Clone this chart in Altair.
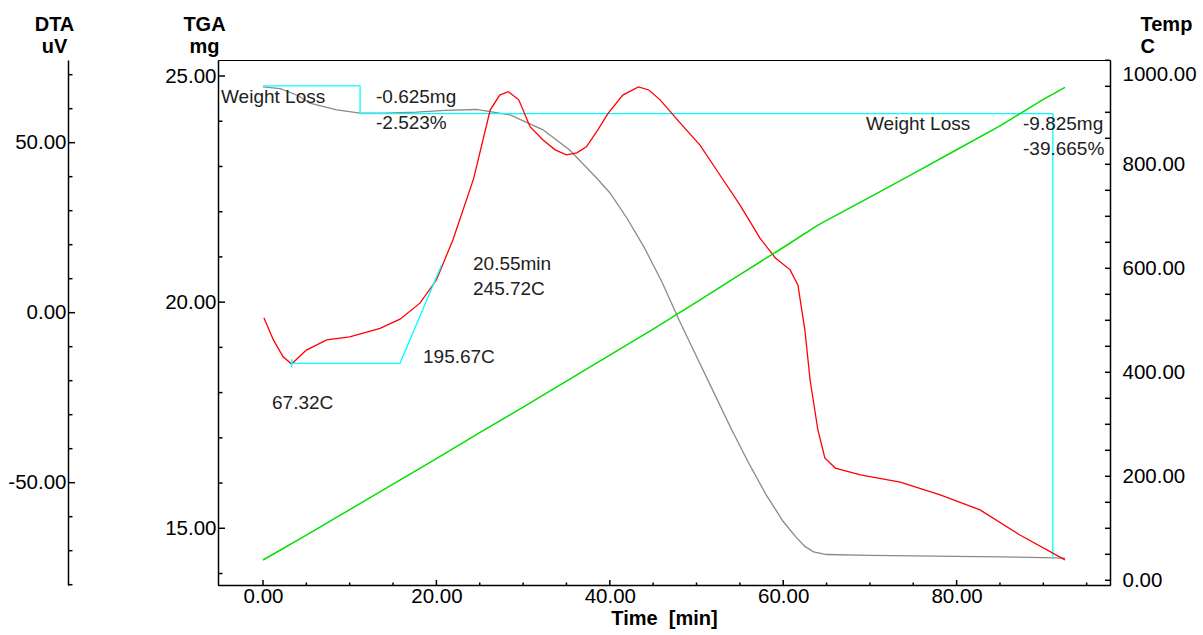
import altair as alt
import pandas as pd

# ---------------- data ----------------
time_tga = [0.0, 2.0, 4.0, 5.4, 8.5, 11.2, 14.0, 17.7, 21.0, 24.6, 28.5, 32.3, 35.4, 38.5,
            40.0, 42.0, 44.0, 46.0, 48.0, 50.0, 52.0, 54.0, 56.0, 58.0, 60.0, 61.5,
            62.5, 63.5, 65.0, 70.0, 75.0, 80.0, 85.0, 90.0, 92.5]
tga_mg = [24.76, 24.72, 24.57, 24.40, 24.25, 24.18, 24.18, 24.20, 24.24, 24.26, 24.14, 23.81,
          23.36, 22.74, 22.42, 21.85, 21.20, 20.45, 19.60, 18.80, 18.00, 17.20, 16.45,
          15.75, 15.15, 14.80, 14.60, 14.48, 14.42, 14.40, 14.39, 14.38, 14.37, 14.35, 14.34]

time_dta = [0.1, 1.2, 2.3, 3.3, 5.0, 7.35, 10.0, 13.5, 15.8, 18.1, 20.0, 21.9, 24.3, 26.2,
            27.3, 28.3, 29.5, 30.8, 32.3, 33.7, 35.0, 36.2, 37.3, 38.6, 39.8, 41.5, 43.3,
            44.5, 45.8, 48.0, 50.4, 52.7, 55.0, 57.3, 59.1, 60.8, 61.7, 62.5, 63.1, 64.0,
            64.8, 66.0, 68.9, 73.5, 78.1, 82.7, 87.3, 92.5]
dta_uv = [-1.5, -8.0, -12.9, -15.1, -11.0, -8.0, -7.1, -4.6, -1.9, 2.8, 9.6, 21.4, 39.5, 59.6,
          64.0, 65.0, 62.6, 54.7, 50.8, 47.9, 46.4, 47.0, 48.8, 53.7, 58.6, 64.0, 66.4,
          65.5, 62.6, 56.1, 49.3, 40.5, 31.7, 22.0, 16.1, 12.6, 8.1, -5.1, -19.8, -34.5,
          -42.7, -45.7, -47.7, -49.8, -53.6, -58.0, -65.4, -72.7]

time_temp = [0, 5, 10, 15, 20, 25, 30, 35, 40, 45, 50, 55, 60, 64, 70, 75, 80, 85, 90, 92.5]
temp_c = [39, 87, 136, 185, 234, 284, 333, 383, 433, 483, 535, 588, 640, 683, 737, 782,
          828, 874, 925, 948]

# cursor constructions (cyan)
wl_t = [0.0, 11.2, 11.2, 91.1, 91.1]
wl_mg = [24.78, 24.78, 24.17, 24.17, 14.34]
onset_t = [3.3, 15.8, 20.6]
onset_uv = [-14.9, -14.9, 14.0]

# tick values
x_major = [0, 20, 40, 60, 80]
x_minor = [5, 10, 15, 25, 30, 35, 45, 50, 55, 65, 70, 75, 85, 90, 95]
tga_major = [15, 20, 25]
tga_minor = [14, 16, 17, 18, 19, 21, 22, 23, 24]
dta_major = [-50, 0, 50]
dta_minor = [-80, -70, -60, -40, -30, -20, -10, 10, 20, 30, 40, 60, 70]
temp_labels = [0, 200, 400, 600, 800, 1000]
temp_ticks = list(range(0, 1001, 50))

annotations = [
    ("Weight Loss", 3, 37),
    ("-0.625mg", 158, 37),
    ("-2.523%", 158, 62.5),
    ("Weight Loss", 648, 64),
    ("-9.825mg", 805, 64),
    ("-39.665%", 805, 89),
    ("20.55min", 255, 204),
    ("245.72C", 255, 229),
    ("195.67C", 205, 296.5),
    ("67.32C", 54, 343),
]

# ---------------- chart ----------------
W, H = 892, 525
FONT = "Liberation Sans"
MINUS = "replace(format(datum.value, '.2f'), '\u2212', '-')"

xscale = alt.Scale(domain=[-5.19, 97.69], nice=False, zero=False)
TGA_DOM = [13.746, 25.354]
DTA_DOM = [-80.09, 74.32]
TEMP_DOM = [-9.04, 1000.6]


def ysc(dom):
    return alt.Scale(domain=dom, nice=False, zero=False)


common_axis = dict(ticks=False, tickSize=0, grid=False, domainColor="black", domainWidth=1.5,
                   labelFont=FONT, labelFontSize=20.5, labelColor="black",
                   titleFont=FONT, titleFontSize=20, titleFontWeight="bold", titleColor="black")

x_axis = alt.Axis(orient="bottom", values=x_major, labelExpr=MINUS, labelPadding=1,
                  title="Time\u00a0\u00a0[min]", titleY=33, titleBaseline="middle", **common_axis)


def X(field="t:Q"):
    return alt.X(field, scale=xscale, axis=x_axis)


tga_df = pd.DataFrame({"t": time_tga, "mg": tga_mg})
dta_df = pd.DataFrame({"t": time_dta, "uv": dta_uv})
temp_df = pd.DataFrame({"t": time_temp, "c": temp_c})
wl_df = pd.DataFrame({"t": wl_t, "mg": wl_mg, "i": list(range(len(wl_t)))})
on_df = pd.DataFrame({"t": onset_t, "uv": onset_uv, "i": list(range(len(onset_t)))})


def yticks(values, dom, x0, x1):
    return alt.Chart(pd.DataFrame({"v": values})).mark_rule(color="black", strokeWidth=1.5).encode(
        y=alt.Y("v:Q", scale=ysc(dom), axis=None), x=alt.value(x0), x2=alt.value(x1))


def xticks(values, length):
    return alt.Chart(pd.DataFrame({"t": values})).mark_rule(color="black", strokeWidth=1.5).encode(
        x=X(), y=alt.value(H), y2=alt.value(H - length))


tga_line = alt.Chart(tga_df).mark_line(color="#8a8a8a", strokeWidth=1.3).encode(
    x=X(),
    y=alt.Y("mg:Q", scale=ysc(TGA_DOM),
            axis=alt.Axis(orient="left", values=tga_major, labelExpr=MINUS, labelPadding=2,
                          title=["TGA", "mg"], titleAngle=0, titleAlign="center",
                          titleBaseline="top", titleX=-14, titleY=-46, titleLineHeight=22,
                          **common_axis)),
)
wl_line = alt.Chart(wl_df).mark_line(color="#00ffff", strokeWidth=1.3).encode(
    x=X(),
    y=alt.Y("mg:Q", scale=ysc(TGA_DOM), axis=None),
    order="i:O")

dta_line = alt.Chart(dta_df).mark_line(color="#ff0000", strokeWidth=1.3).encode(
    x=X(),
    y=alt.Y("uv:Q", scale=ysc(DTA_DOM),
            axis=alt.Axis(orient="left", offset=150, values=dta_major, labelExpr=MINUS,
                          labelPadding=2, title=["DTA", "uV"], titleAngle=0,
                          titleAlign="center", titleBaseline="top", titleX=-14, titleY=-46,
                          titleLineHeight=22, **common_axis)),
)
on_line = alt.Chart(on_df).mark_line(color="#00ffff", strokeWidth=1.3).encode(
    x=X(),
    y=alt.Y("uv:Q", scale=ysc(DTA_DOM), axis=None),
    order="i:O")
on_mark = alt.Chart(pd.DataFrame({"t": [onset_t[0]], "lo": [onset_uv[0] - 1.2],
                                  "hi": [onset_uv[0] + 1.2]})).mark_rule(
    color="#00ffff", strokeWidth=1.5).encode(
    x=X(),
    y=alt.Y("lo:Q", scale=ysc(DTA_DOM), axis=None), y2="hi:Q")

temp_line = alt.Chart(temp_df).mark_line(color="#00e000", strokeWidth=1.5).encode(
    x=X(),
    y=alt.Y("c:Q", scale=ysc(TEMP_DOM),
            axis=alt.Axis(orient="right", values=temp_labels, labelExpr=MINUS, labelPadding=12,
                          labelFlush=1, labelFlushOffset=-4.5,
                          title=["Temp", "C"], titleAngle=0, titleAlign="left",
                          titleBaseline="top", titleX=30, titleY=-46, titleLineHeight=22,
                          **common_axis)),
)

text_layers = [
    alt.Chart(pd.DataFrame({"a": [0]})).mark_text(
        text=txt, align="left", baseline="middle", font=FONT, fontSize=19, color="#222222"
    ).encode(x=alt.value(px), y=alt.value(py))
    for txt, px, py in annotations
]

layers = [
    tga_line, wl_line,
    yticks(tga_major, TGA_DOM, 0, 7), yticks(tga_minor, TGA_DOM, 0, 4.5),
    dta_line, on_line, on_mark,
    yticks(dta_major, DTA_DOM, -150, -143), yticks(dta_minor, DTA_DOM, -150, -145.5),
    temp_line, yticks(temp_ticks, TEMP_DOM, W, W - 5),
    xticks(x_major, 5), xticks(x_minor, 2.5),
] + text_layers

chart = alt.layer(*layers).resolve_scale(
    y="independent").resolve_axis(y="independent").properties(
    width=W, height=H,
    autosize=alt.AutoSizeParams(type="none"),
    padding={"left": 218, "top": 60, "right": 93, "bottom": 50},
    background="white",
).configure_view(stroke="black", strokeWidth=1)

chart.save("out.html", embed_options={"renderer": "svg", "actions": False})
